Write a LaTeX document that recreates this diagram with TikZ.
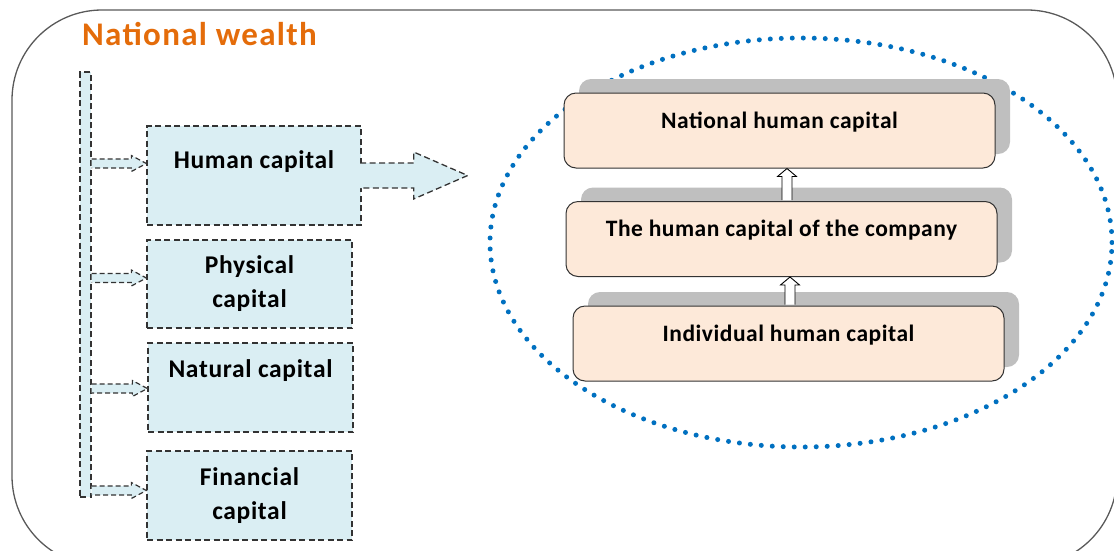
\documentclass[tikz,border=0pt]{standalone}
\usepackage{fontspec}
\setmainfont{Carlito}
\usetikzlibrary{calc,shadows}

\definecolor{capblue}{RGB}{218,238,243}
\definecolor{peach}{RGB}{253,233,217}
\definecolor{shade}{RGB}{191,191,191}
\definecolor{wealth}{RGB}{228,108,10}
\definecolor{ringblue}{RGB}{0,112,192}
\definecolor{edge}{RGB}{51,51,51}

% block arrow: [style]{tail}{tip}{half shaft}{half head}{head length}
\newcommand{\blockarrow}[6][]{%
  \coordinate (ba-h) at ($(#3)!#6!(#2)$);
  \filldraw[#1] ($(#2)!#4!90:(#3)$) -- ($(ba-h)!#4!90:(#3)$) -- ($(ba-h)!#5!90:(#3)$) -- (#3)
    -- ($(ba-h)!#5!-90:(#3)$) -- ($(ba-h)!#4!-90:(#3)$) -- ($(#2)!#4!-90:(#3)$);}

\begin{document}
\begin{tikzpicture}[x=1pt, y=-1pt,
    frame/.style={draw=black!65, line width=1.3pt, rounded corners=90pt},
    capbox/.style={draw=edge, fill=capblue, line width=1.3pt, dash pattern=on 6pt off 3.5pt,
        inner sep=0pt, align=center, text=black,
        font=\fontsize{25.5}{34}\selectfont\bfseries\addfontfeatures{LetterSpace=2.6}},
    lifted/.style={text height=18pt, text depth=#1},
    feed/.style={draw=edge, fill=capblue, line width=1.2pt, dash pattern=on 5pt off 3pt},
    tier/.style={draw=edge, fill=peach, rounded corners=12pt, line width=1pt, inner sep=0pt,
        minimum width=431pt, minimum height=75pt, text=black,
        font=\fontsize{23.5}{28}\selectfont\bfseries\addfontfeatures{LetterSpace=2.2},
        drop shadow={shadow xshift=15pt, shadow yshift=14pt, fill=shade, opacity=1}},
    rise/.style={draw=black, fill=white, line width=0.9pt},
    ring/.style={draw=ringblue, line width=5pt, line cap=round, dash pattern=on 0pt off 11pt}]
  \useasboundingbox (0,0) rectangle (1114,550);

  \draw[frame] (12,10) rectangle (1117,566);
  \node[anchor=base west, inner sep=0pt, text=wealth,
        font=\fontsize{33}{40}\selectfont\bfseries\addfontfeatures{LetterSpace=4}]
    (title) at (82,45) {National wealth};

  % left side
  \node[capbox, minimum width=11pt, minimum height=425pt] (bus) at (85.5,284.5) {};
  \node[capbox, lifted=32.6pt, minimum width=214pt, minimum height=99pt] (hum) at (254,175.5) {Human capital};
  \node[capbox, minimum width=205pt, minimum height=88pt] (phys) at (249.5,284) {Physical\\capital};
  \node[capbox, lifted=38.6pt, minimum width=205pt, minimum height=89pt] (nat) at (250.5,387.5) {Natural capital};
  \node[capbox, minimum width=205pt, minimum height=89pt] (fin) at (249.5,495.5) {Financial\\capital};

  \foreach \bx/\dy in {hum/-12, phys/-6, nat/1, fin/-5} {
    \coordinate (\bx-in) at ($(\bx.west)+(0,\dy)$);
    \coordinate (\bx-out) at (bus.east |- \bx-in);
    \blockarrow[feed]{\bx-out}{\bx-in}{4.5pt}{8pt}{15pt}
  }

  \coordinate (hum-tail) at ($(hum.east)+(-1.5,0)$);
  \coordinate (hum-tip) at ($(hum.east)+(106,0)$);
  \blockarrow[feed, line width=1.3pt, dash pattern=on 6pt off 3.5pt]{hum-tail}{hum-tip}{12.5pt}{23.5pt}{54pt}

  % right side
  \draw[ring] (801,242.5) ellipse [x radius=311pt, y radius=204.5pt];

  \node[tier, lifted=23pt] (nhc) at (779.5,130.5) {National human capital};
  \node[tier, lifted=23pt] (chc) at (781.5,239) {The human capital of the company};
  \node[tier, lifted=23pt] (ihc) at (788.5,343.5) {Individual human capital};

  \coordinate (chc-tail) at ($(chc.north)+(5.5,-1)$);
  \coordinate (chc-tip) at (chc-tail |- nhc.south);
  \blockarrow[rise]{chc-tail}{chc-tip}{5pt}{9.5pt}{8pt}
  \coordinate (ihc-tail) at ($(ihc.north)+(1.5,-1)$);
  \coordinate (ihc-tip) at (ihc-tail |- chc.south);
  \blockarrow[rise]{ihc-tail}{ihc-tip}{5pt}{9.5pt}{8pt}
\end{tikzpicture}
\end{document}
